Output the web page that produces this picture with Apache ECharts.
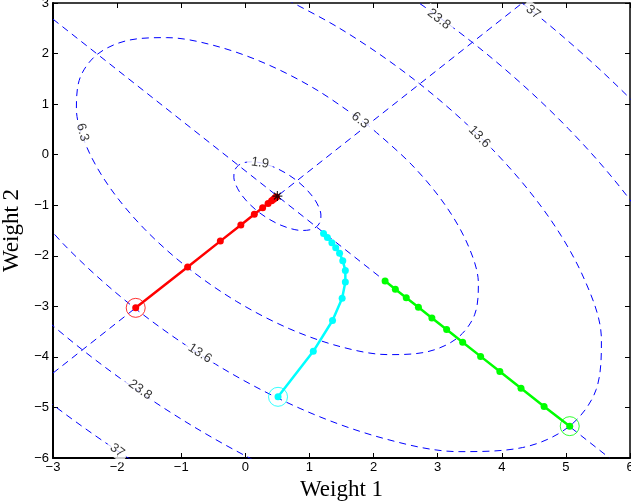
<!DOCTYPE html>
<html>
<head>
<meta charset="utf-8">
<script src="https://cdn.jsdelivr.net/npm/echarts@6/dist/echarts.min.js"></script>
<style>
html,body{margin:0;padding:0;background:#fff;}
#chart{width:631px;height:503px;}
</style>
</head>
<body>
<div id="chart"></div>
<script>
// ---------------- data ----------------
const xTicks = [-3, -2, -1, 0, 1, 2, 3, 4, 5, 6];
const yTicks = [-6, -5, -4, -3, -2, -1, 0, 1, 2, 3];

const contour19 = [
  [0.285,-0.175],[0.126,-0.141],[-0.009,-0.154],[-0.108,-0.212],[-0.166,-0.311],[-0.179,-0.446],
  [-0.145,-0.605],[-0.068,-0.779],[0.049,-0.956],[0.196,-1.124],[0.364,-1.271],[0.541,-1.388],
  [0.715,-1.465],[0.875,-1.499],[1.009,-1.486],[1.108,-1.428],[1.166,-1.329],[1.179,-1.195],
  [1.145,-1.035],[1.068,-0.861],[0.951,-0.684],[0.804,-0.516],[0.636,-0.369],[0.459,-0.253],
  [0.285,-0.175]
];
const contour63 = [
  [1.907,0.587],[1.133,1.266],[0.315,1.802],[-0.490,2.160],[-1.228,2.315],[-1.847,2.256],
  [-2.307,1.987],[-2.576,1.527],[-2.635,0.908],[-2.480,0.170],[-2.122,-0.635],[-1.586,-1.453],
  [-0.907,-2.227],[-0.133,-2.906],[0.685,-3.442],[1.490,-3.800],[2.228,-3.955],[2.847,-3.896],
  [3.307,-3.627],[3.576,-3.167],[3.635,-2.548],[3.480,-1.810],[3.122,-1.005],[2.586,-0.187],
  [1.907,0.587]
];
const contour136 = [
  [0.146,3.380],[1.466,2.503],[2.720,1.400],[3.823,0.146],[4.700,-1.174],[5.290,-2.470],
  [5.554,-3.654],[5.473,-4.644],[5.054,-5.374],[4.324,-5.793],[3.334,-5.874],[2.150,-5.610],
  [0.854,-5.020],[-0.466,-4.143],[-1.720,-3.040],[-2.823,-1.786],[-3.700,-0.466]
];
const contour238Upper = [[7.015,-3.035],[6.220,-1.273],[5.035,0.519],[3.541,2.221],[1.839,3.715],[0.047,4.900]];
const contour238Lower = [[-5.220,-0.367],[-4.035,-2.159],[-2.541,-3.861],[-0.839,-5.355],[0.953,-6.540],[2.715,-7.335]];
const contour37Upper = [[8.680,-3.600],[7.682,-1.388],[6.194,0.863],[4.318,2.998],[2.183,4.874]];
const contour37Lower = [[-5.194,-2.503],[-3.318,-4.638],[-1.183,-6.514],[1.068,-8.002]];

const principalAxisA = [[-3.0,-4.32],[4.32,3.0]];
const principalAxisB = [[-3.0,2.68],[5.68,-6.0]];

const contourLabelText = ['1.9','6.3','6.3','13.6','23.8','37','13.6','23.8','37'];
const contourLabelAt = [[0.23,-0.165],[-2.54,0.44],[1.79,0.68],[3.65,0.35],[3.02,2.68],[4.49,2.82],[-0.71,-3.93],[-1.64,-4.65],[-2.0,-5.85]];

const redPath = [[-1.71,-3.03],[-0.90,-2.22],[-0.39,-1.71],[-0.07,-1.39],[0.14,-1.18],[0.27,-1.05],
  [0.355,-0.965],[0.41,-0.91],[0.44,-0.88],[0.463,-0.857],[0.476,-0.844],[0.485,-0.835]];
const cyanPath = [[0.51,-4.79],[1.06,-3.89],[1.36,-3.28],[1.51,-2.84],[1.56,-2.52],[1.56,-2.29],
  [1.52,-2.10],[1.47,-1.95],[1.41,-1.84],[1.35,-1.74],[1.28,-1.64],[1.22,-1.56]];
const greenPath = [[5.06,-5.37],[4.66,-4.98],[4.30,-4.62],[3.97,-4.29],[3.67,-3.99],[3.39,-3.71],
  [3.14,-3.46],[2.91,-3.23],[2.70,-3.02],[2.51,-2.83],[2.34,-2.66],[2.18,-2.50]];
const minimumPoint = [0.5,-0.82];

// ---------------- styles ----------------
const labelRotation = [-8,-75,-38,-46,-38,-37,-33,-36,-37];
const CONTOUR_STYLE = {color:'#0000ff', width:1, type:[7,5]};
const fmt = v => (v < 0 ? '\u2212' + Math.abs(v) : String(v));
const tickFont = {fontFamily:'Liberation Sans, Arial, sans-serif', fontSize:13, color:'#000'};

function contourSeries(data){
  return {type:'line', data:data, smooth:0.33, showSymbol:false, symbol:'none',
    lineStyle:CONTOUR_STYLE, silent:true, z:1, clip:true, animation:false};
}
function pathSeries(data, color){
  return {type:'line', data:data, smooth:false, symbol:'circle', symbolSize:7, showSymbol:true, showAllSymbol:true,
    lineStyle:{color:color, width:2.5}, itemStyle:{color:color}, silent:true, z:4, animation:false};
}

const xMin = xTicks[0], xMax = xTicks[xTicks.length-1], xInt = xTicks[1]-xTicks[0];
const yMin = yTicks[0], yMax = yTicks[yTicks.length-1], yInt = yTicks[1]-yTicks[0];

const chart = echarts.init(document.getElementById('chart'), null, {renderer:'canvas'});
chart.setOption({
  animation:false,
  backgroundColor:'#fff',
  grid:{left:53, right:1, top:3, bottom:45, containLabel:false, outerBoundsMode:'none'},
  xAxis:[
    {type:'value', position:'bottom', min:xMin, max:xMax, interval:xInt,
     axisLine:{show:true, onZero:false, lineStyle:{color:'#000', width:2}},
     axisTick:{show:true, inside:true, length:5, lineStyle:{color:'#000', width:1}},
     axisLabel:Object.assign({margin:3, formatter:fmt, showMinLabel:true, showMaxLabel:true}, tickFont),
     splitLine:{show:false},
     name:'Weight 1', nameLocation:'middle', nameGap:11.5,
     nameTextStyle:{fontFamily:'Liberation Serif, Times New Roman, serif', fontSize:23, color:'#000'}},
    {type:'value', position:'top', min:xMin, max:xMax, interval:xInt,
     axisLine:{show:true, onZero:false, lineStyle:{color:'#000', width:1.5}},
     axisTick:{show:true, inside:true, length:5, lineStyle:{color:'#000', width:1}},
     axisLabel:{show:false}, splitLine:{show:false}}
  ],
  yAxis:[
    {type:'value', position:'left', min:yMin, max:yMax, interval:yInt,
     axisLine:{show:true, onZero:false, lineStyle:{color:'#000', width:2}},
     axisTick:{show:true, inside:true, length:5, lineStyle:{color:'#000', width:1}},
     axisLabel:Object.assign({margin:4, formatter:fmt, showMinLabel:true, showMaxLabel:true}, tickFont),
     splitLine:{show:false},
     name:'Weight 2', nameLocation:'middle', nameGap:26, nameRotate:90,
     nameTextStyle:{fontFamily:'Liberation Serif, Times New Roman, serif', fontSize:23, color:'#000'}},
    {type:'value', position:'right', min:yMin, max:yMax, interval:yInt,
     axisLine:{show:true, onZero:false, lineStyle:{color:'#000', width:1.5}},
     axisTick:{show:true, inside:true, length:5, lineStyle:{color:'#000', width:1}},
     axisLabel:{show:false}, splitLine:{show:false}}
  ],
  series:[
    contourSeries(contour19),
    contourSeries(contour63),
    contourSeries(contour136),
    contourSeries(contour238Upper),
    contourSeries(contour238Lower),
    contourSeries(contour37Upper),
    contourSeries(contour37Lower),
    {type:'line', data:principalAxisA, showSymbol:false, symbol:'none', lineStyle:CONTOUR_STYLE, silent:true, z:1},
    {type:'line', data:principalAxisB, showSymbol:false, symbol:'none', lineStyle:CONTOUR_STYLE, silent:true, z:1},
    {type:'scatter', silent:true, z:3, symbol:'circle', symbolSize:1, itemStyle:{color:'transparent'},
     data:contourLabelAt.map((p,i)=>({value:p, label:{formatter:contourLabelText[i], rotate:labelRotation[i]}})),
     label:{show:true, position:'inside', color:'#000', fontFamily:'Liberation Sans, Arial, sans-serif', fontSize:13,
            backgroundColor:'#fff', padding:[1,4]}},
    pathSeries(redPath, '#ff0000'),
    pathSeries(cyanPath, '#00ffff'),
    pathSeries(greenPath, '#00ff00'),
    {type:'scatter', silent:true, z:5, symbol:'circle', symbolSize:19,
     data:[
       {value:redPath[0], itemStyle:{borderColor:'#ff0000'}},
       {value:cyanPath[0], itemStyle:{borderColor:'#00ffff'}},
       {value:greenPath[0], itemStyle:{borderColor:'#00ff00'}}
     ],
     itemStyle:{color:'transparent', borderWidth:1}},
    {type:'scatter', silent:true, z:6, data:[minimumPoint],
     symbol:'path://M0,5L10,5M5,0L5,10M1.6,1.6L8.4,8.4M1.6,8.4L8.4,1.6', symbolSize:10,
     itemStyle:{color:'transparent', borderColor:'#000', borderWidth:1.2}}
  ]
});
</script>
</body>
</html>
